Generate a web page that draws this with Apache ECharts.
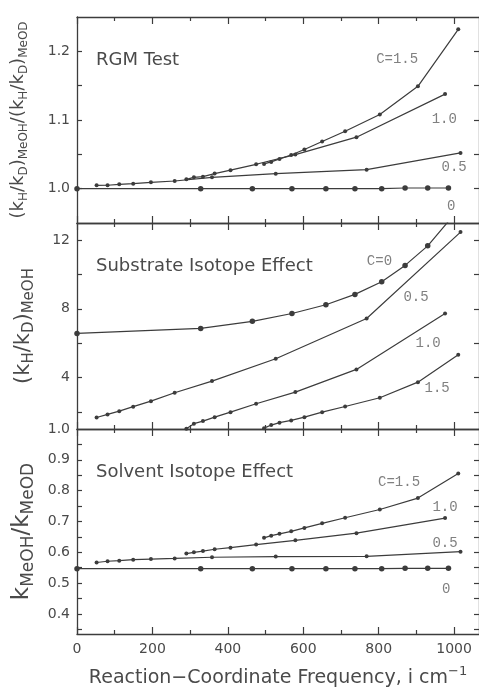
<!DOCTYPE html>
<html>
<head>
<meta charset="utf-8">
<script src="https://cdn.jsdelivr.net/npm/echarts@6/dist/echarts.min.js"></script>
<style>
  html, body { margin: 0; padding: 0; background: #fff; }
  #main { width: 479px; height: 691px; }
</style>
</head>
<body>
<div id="main"></div>
<script>
// reaction-coordinate frequency (i cm^-1) for each curve
var freqC0  = [0, 328, 465, 570, 660, 737, 808, 870, 930, 985];
var freqC05 = [52, 81, 112, 149, 196, 259, 358, 527, 768, 1017];
var freqC10 = [290, 310, 334, 365, 407, 475, 579, 741, 976];
var freqC15 = [496, 515, 537, 568, 603, 650, 711, 803, 904, 1011];

// RGM test, (kH/kD)MeOH / (kH/kD)MeOD
var rgmC0  = [1.0, 1.0, 1.0, 1.0, 1.0, 1.0, 1.0, 1.001, 1.001, 1.001];
var rgmC05 = [1.0048, 1.005, 1.0063, 1.0073, 1.0092, 1.0112, 1.0165, 1.0219, 1.0277, 1.052];
var rgmC10 = [1.0136, 1.0165, 1.0175, 1.022, 1.027, 1.0355, 1.0496, 1.075, 1.1377];
var rgmC15 = [1.036, 1.039, 1.0433, 1.049, 1.057, 1.0686, 1.0837, 1.108, 1.149, 1.232];

// substrate isotope effect, (kH/kD)MeOH
var subC0  = [6.57, 6.86, 7.27, 7.73, 8.24, 8.84, 9.58, 10.53, 11.67, 13.1];
var subC05 = [1.67, 1.85, 2.04, 2.30, 2.62, 3.11, 3.79, 5.09, 7.44, 12.47];
var subC10 = [1.02, 1.31, 1.46, 1.69, 1.98, 2.47, 3.15, 4.47, 7.73];
var subC15 = [1.05, 1.23, 1.37, 1.50, 1.69, 1.98, 2.31, 2.82, 3.73, 5.33];

// solvent isotope effect, kMeOH / kMeOD
var solvC0  = [0.547, 0.547, 0.547, 0.547, 0.547, 0.547, 0.547, 0.548, 0.548, 0.548];
var solvC05 = [0.567, 0.571, 0.573, 0.576, 0.578, 0.580, 0.584, 0.586, 0.587, 0.602];
var solvC10 = [0.596, 0.600, 0.604, 0.610, 0.615, 0.625, 0.639, 0.662, 0.711];
var solvC15 = [0.647, 0.654, 0.660, 0.668, 0.679, 0.694, 0.712, 0.739, 0.776, 0.856];

// tick positions
var xMajor = [0, 200, 400, 600, 800, 1000];
var xMinor = [100, 300, 500, 700, 900];
var rgmTicks  = [1.0, 1.05, 1.1, 1.15, 1.2];
var rgmLabels = [1.0, 1.1, 1.2];
var subTicks  = [2, 4, 6, 8, 10, 12];
var subLabels = [1, 4, 8, 12];
var solvTicks  = [0.35, 0.4, 0.45, 0.5, 0.55, 0.6, 0.65, 0.7, 0.75, 0.8, 0.85, 0.9, 0.95];
var solvLabels = [0.4, 0.5, 0.6, 0.7, 0.8, 0.9];

var INK = '#3c3c3c';
var FONT = 'DejaVu Sans';
var MONO = 'Liberation Mono';

var chart = echarts.init(document.getElementById('main'), null, { renderer: 'canvas' });

function pts(xs, ys) {
  return xs.map(function (x, i) { return [x, ys[i]]; });
}

function xAxesFor(g, withLabels) {
  var list = [];
  ['bottom', 'top'].forEach(function (pos) {
    list.push({
      type: 'value', gridIndex: g, position: pos, min: 0, max: 1066,
      splitLine: { show: false },
      axisLine: { show: true, onZero: false, lineStyle: { color: INK, width: 1.3 } },
      axisTick: { show: true, inside: true, length: 7, customValues: xMajor, lineStyle: { color: INK, width: 1.2 } },
      axisLabel: {
        show: withLabels && pos === 'bottom', customValues: xMajor, margin: 8,
        formatter: function (v) { return String(v); },
        color: '#4a4a4a', fontFamily: FONT, fontSize: 14
      },
      name: (withLabels && pos === 'bottom') ? '{m|Reaction\u2212Coordinate Frequency, i cm}{p|\u22121}' : '',
      nameLocation: 'middle',
      nameGap: 31,
      nameTextStyle: {
        color: '#4a4a4a',
        rich: {
          m: { fontFamily: FONT, fontSize: 19, lineHeight: 26, color: '#4a4a4a' },
          p: { fontFamily: FONT, fontSize: 13, lineHeight: 13, verticalAlign: 'top', color: '#4a4a4a' }
        }
      }
    });
    list.push({
      type: 'value', gridIndex: g, position: pos, min: 0, max: 1066,
      splitLine: { show: false },
      axisLine: { show: false, onZero: false },
      axisTick: { show: true, inside: true, length: 4, customValues: xMinor, lineStyle: { color: INK, width: 1.2 } },
      axisLabel: { show: false }
    });
  });
  return list;
}

function yAxesFor(g, min, max, ticks, labels, fmt, name, gap, big, small) {
  return [
    {
      type: 'value', gridIndex: g, position: 'left', min: min, max: max,
      splitLine: { show: false },
      axisLine: { show: true, onZero: false, lineStyle: { color: INK, width: 1.3 } },
      axisTick: { show: true, inside: true, length: 5, customValues: ticks, lineStyle: { color: INK, width: 1.2 } },
      axisLabel: {
        show: true, customValues: labels, margin: 7, formatter: fmt,
        color: '#4a4a4a', fontFamily: FONT, fontSize: 14
      },
      name: name,
      nameLocation: 'middle',
      nameRotate: 90,
      nameGap: gap,
      nameTextStyle: {
        color: '#4a4a4a',
        rich: {
          m: { fontFamily: FONT, fontSize: big, lineHeight: big + 6, color: '#4a4a4a' },
          s: { fontFamily: FONT, fontSize: small, lineHeight: small, verticalAlign: 'bottom', color: '#4a4a4a' }
        }
      }
    },
    {
      type: 'value', gridIndex: g, position: 'right', min: min, max: max,
      splitLine: { show: false },
      axisLine: { show: true, onZero: false, lineStyle: { color: INK, width: 1.3 } },
      axisTick: { show: true, inside: true, length: 5, customValues: ticks, lineStyle: { color: INK, width: 1.2 } },
      axisLabel: { show: false }
    }
  ];
}

function curve(g, xs, ys, text, at, big) {
  return {
    type: 'line',
    xAxisIndex: g * 4,
    yAxisIndex: g * 2,
    data: pts(xs, ys),
    symbol: 'circle',
    symbolSize: big ? 5.5 : 4,
    showSymbol: true,
    clip: true,
    silent: true,
    lineStyle: { color: INK, width: 1.2 },
    itemStyle: { color: INK },
    markPoint: {
      symbol: 'rect',
      symbolSize: 1,
      silent: true,
      itemStyle: { color: 'rgba(0,0,0,0)' },
      label: {
        show: true, position: 'inside', formatter: text,
        color: '#808080', fontFamily: MONO, fontSize: 14
      },
      data: [{ coord: at }]
    }
  };
}

var fmt1 = function (v) { return v.toFixed(1); };
var fmtSub = function (v) { return v === 1 ? '1.0' : String(v); };

var option = {
  animation: false,
  backgroundColor: '#fff',
  grid: [
    { left: 77, top: 17, width: 403, height: 206 },
    { left: 77, top: 223, width: 403, height: 206 },
    { left: 77, top: 429, width: 403, height: 205 }
  ],
  title: [
    { text: 'RGM Test', left: 96, top: 51, padding: 0,
      textStyle: { fontFamily: FONT, fontSize: 18, fontWeight: 'normal', color: '#4a4a4a' } },
    { text: 'Substrate Isotope Effect', left: 96, top: 257, padding: 0,
      textStyle: { fontFamily: FONT, fontSize: 18, fontWeight: 'normal', color: '#4a4a4a' } },
    { text: 'Solvent Isotope Effect', left: 96, top: 463, padding: 0,
      textStyle: { fontFamily: FONT, fontSize: 18, fontWeight: 'normal', color: '#4a4a4a' } }
  ],
  xAxis: [].concat(xAxesFor(0, false), xAxesFor(1, false), xAxesFor(2, true)),
  yAxis: [].concat(
    yAxesFor(0, 0.95, 1.25, rgmTicks, rgmLabels, fmt1,
      '{m|(k}{s|H}{m|/k}{s|D}{m|)}{s|MeOH}{m|/(k}{s|H}{m|/k}{s|D}{m|)}{s|MeOD}', 47, 18, 12),
    yAxesFor(1, 1, 13, subTicks, subLabels, fmtSub,
      '{m|(k}{s|H}{m|/k}{s|D}{m|)}{s|MeOH}', 31, 21, 15),
    yAxesFor(2, 0.335, 1.0, solvTicks, solvLabels, fmt1,
      '{m|k}{s|MeOH}{m|/k}{s|MeOD}', 39, 23, 17)
  ),
  series: [
    curve(0, freqC0, rgmC0, '0', [992, 0.974], true),
    curve(0, freqC05, rgmC05, '0.5', [1000, 1.031]),
    curve(0, freqC10, rgmC10, '1.0', [974, 1.1007]),
    curve(0, freqC15, rgmC15, 'C=1.5', [849, 1.188]),

    curve(1, freqC0, subC0, 'C=0', [802, 10.76], true),
    curve(1, freqC05, subC05, '0.5', [899, 8.66]),
    curve(1, freqC10, subC10, '1.0', [931, 5.98]),
    curve(1, freqC15, subC15, '1.5', [955, 3.36]),

    curve(2, freqC0, solvC0, '0', [979, 0.479], true),
    curve(2, freqC05, solvC05, '0.5', [976, 0.628]),
    curve(2, freqC10, solvC10, '1.0', [976, 0.746]),
    curve(2, freqC15, solvC15, 'C=1.5', [854, 0.827])
  ]
};

chart.setOption(option);
</script>
</body>
</html>
